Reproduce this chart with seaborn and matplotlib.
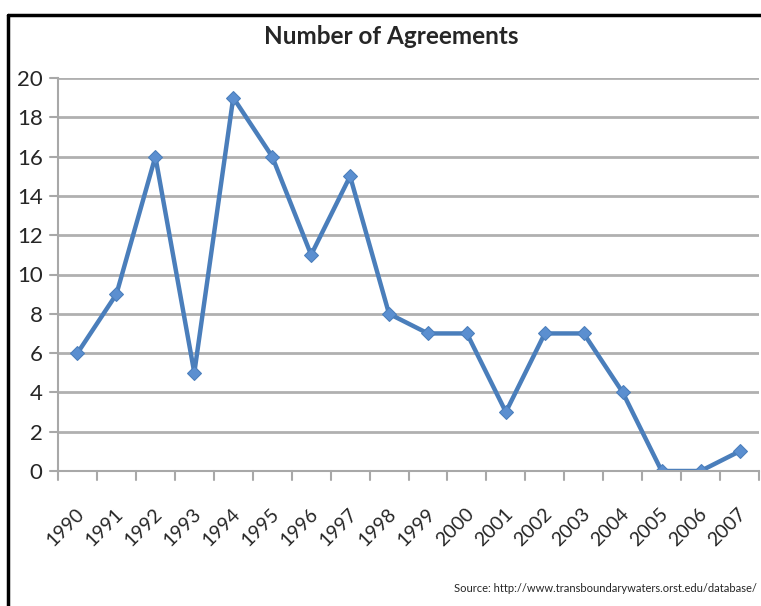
import matplotlib
matplotlib.use("Agg")
import matplotlib.pyplot as plt
import matplotlib.transforms as mtransforms
import seaborn as sns
import pandas as pd
from matplotlib.lines import Line2D

years = ["1990", "1991", "1992", "1993", "1994", "1995", "1996", "1997", "1998",
         "1999", "2000", "2001", "2002", "2003", "2004", "2005", "2006", "2007"]
agreements = [6, 9, 16, 5, 19, 16, 11, 15, 8, 7, 7, 3, 7, 7, 4, 0, 0, 1]
yticks = [0, 2, 4, 6, 8, 10, 12, 14, 16, 18, 20]

df = pd.DataFrame({"year": years, "agreements": agreements})

sns.set_style("white")
plt.rcParams["font.family"] = ["Lato", "DejaVu Sans"]

W, H = 761, 606
fig = plt.figure(figsize=(W / 100, H / 100), dpi=100)
ax = fig.add_axes([58 / W, 1 - 471 / H, (759 - 58) / W, (471 - 78) / H])

sns.lineplot(data=df, x="year", y="agreements", ax=ax, color="#4a7ebb",
             linewidth=3.2, marker="D", markersize=7.5, markeredgecolor="#4a7ebb",
             markerfacecolor="#5b8fd0", sort=False)

n = len(years)
ax.set_xlim(-0.5, n - 0.5)
ax.set_ylim(0, 20)
ax.set_yticks(yticks)
ax.set_yticklabels([str(v) for v in yticks], fontsize=16)
ax.set_xticks(range(n))
ax.set_xticklabels(years, rotation=45, ha="right", va="center", rotation_mode="anchor",
                   fontsize=14)
ax.tick_params(axis="x", length=0, pad=29)
ax.tick_params(axis="y", length=0, pad=11)
offset = mtransforms.ScaledTranslation(4 / 100, 0, fig.dpi_scale_trans)
for lbl in ax.get_xticklabels():
    lbl.set_transform(lbl.get_transform() + offset)
ax.set_xlabel("")
ax.set_ylabel("")

for yv in yticks[1:]:
    ax.axhline(yv, color="#b0b0b0", linewidth=2, zorder=0)

for s in ["top", "right"]:
    ax.spines[s].set_visible(False)
ax.spines["left"].set_color("#a8a8a8")
ax.spines["left"].set_linewidth(1.5)
ax.spines["bottom"].set_color("#a8a8a8")
ax.spines["bottom"].set_linewidth(1.5)

# category boundary tick marks on x axis and y-axis tick marks
for i in range(n + 1):
    ax.add_line(Line2D([i - 0.5, i - 0.5], [0, -0.45], color="#a8a8a8", lw=1.5,
                       clip_on=False))
for yv in yticks:
    ax.add_line(Line2D([-0.5 - 0.2, -0.5], [yv, yv], color="#a8a8a8", lw=1.5,
                       clip_on=False))

fig.text(391 / W, 1 - 37 / H, "Number of Agreements", ha="center", va="center",
         fontsize=17.5, fontweight="bold")
fig.text(757 / W, 1 - 588 / H,
         "Source: http://www.transboundarywaters.orst.edu/database/",
         ha="right", va="center", fontsize=8)

# outer frame (left and top sides)
fig.add_artist(Line2D([8 / W, 8 / W], [0, 1 - 15 / H], color="black", lw=2.5,
                      transform=fig.transFigure))
fig.add_artist(Line2D([8 / W, 1], [1 - 15 / H, 1 - 15 / H], color="black", lw=2.5,
                      transform=fig.transFigure))

fig.savefig("out.png", dpi=100)
